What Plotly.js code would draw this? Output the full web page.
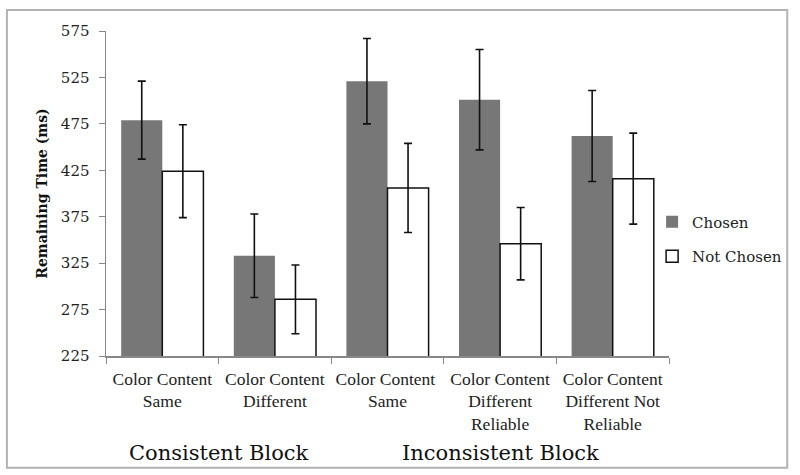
<!DOCTYPE html>
<html>
<head>
<meta charset="utf-8">
<script src="https://cdn.plot.ly/plotly-3.0.1.min.js"></script>
<style>
  html, body { margin: 0; padding: 0; background: #fff; }
  #chart { width: 800px; height: 475px; }
</style>
</head>
<body>
<div id="chart"></div>
<script>
const categories = [
  "Color Content<br>Same",
  "Color Content<br>Different",
  "Color Content <br>Same",
  "Color Content<br>Different<br>Reliable",
  "Color Content<br>Different Not<br>Reliable"
];
const chosen = [479, 333, 521, 501, 462];
const chosenErr = [42, 45, 46, 54, 49];
const notChosen = [424, 286, 406, 346, 416];
const notChosenErr = [50, 37, 48, 39, 49];
const blockLabels = ["Consistent Block", "Inconsistent Block"];

const serif = "DejaVu Serif, serif";
const narrowSerif = "Liberation Serif, serif";

let barTrace = (yv, ev, thisname, fill, grp) => ({
  type: "bar",
  name: thisname,
  legendgroup: grp,
  x: categories,
  y: yv,
  marker: {
    color: fill,
    line: { color: fill == "#ffffff" ? "#111" : fill, width: fill == "#ffffff" ? 1.5 : 0 },
  },
  error_y: {
    type: "data",
    array: ev,
    visible: true,
    color: "#111",
    thickness: 1.6,
    width: 4,
  },
});

const traces = [
  barTrace(chosen, chosenErr, "Chosen", "#777777", "a"),
  barTrace(notChosen, notChosenErr, "Not Chosen", "#ffffff", "b"),
];

// axis ticks shared by both axes
const tickStyle = {
  showline: true,
  linecolor: "#888",
  linewidth: 1.5,
  ticks: "outside",
  ticklen: 6,
  tickcolor: "#888",
  showgrid: false,
};

const layout = {
  width: 800,
  height: 475,
  paper_bgcolor: "#fff",
  plot_bgcolor: "#fff",
  font: { family: serif, size: 15, color: "#222" },
  barmode: "group",
  bargap: 0.27,
  bargroupgap: 0,
  margin: { l: 106, r: 131, t: 31, b: 119 },
  xaxis: Object.assign({}, tickStyle, {
    type: "category",
    tickson: "boundaries",
    tickangle: 0,
    ticklabelstandoff: 6,
    tickfont: { family: narrowSerif, size: 17.5, color: "#222" },
  }),
  yaxis: Object.assign({}, tickStyle, {
    range: [225, 575],
    tickvals: [225, 275, 325, 375, 425, 475, 525, 575],
    ticklabelstandoff: 6,
    zeroline: false,
    tickfont: { family: serif, size: 15, color: "#222" },
    title: {
      text: "<b>Remaining Time (ms)</b>",
      font: { family: serif, size: 14, color: "#111" },
      standoff: 10,
    },
  }),
  legend: {
    x: 0.97,
    xanchor: "left",
    y: 0.36,
    yanchor: "middle",
    bgcolor: "rgba(0,0,0,0)",
    font: { family: serif, size: 15, color: "#222" },
    tracegroupgap: 12,
  },
  annotations: [
    {
      text: blockLabels[0],
      xref: "paper", yref: "paper",
      x: 0.2, xanchor: "center",
      y: -0.255, yanchor: "top",
      showarrow: false,
      font: { family: serif, size: 21, color: "#111" },
    },
    {
      text: blockLabels[1],
      xref: "paper", yref: "paper",
      x: 0.7, xanchor: "center",
      y: -0.255, yanchor: "top",
      showarrow: false,
      font: { family: serif, size: 21, color: "#111" },
    },
  ],
  shapes: [
    {
      type: "rect",
      xref: "paper", yref: "paper",
      x0: -0.176, x1: 1.21, y0: -0.344, y1: 1.065,
      line: { color: "#b3b3b3", width: 2 },
      fillcolor: "rgba(0,0,0,0)",
    },
  ],
};

Plotly.newPlot("chart", traces, layout, { displayModeBar: false, staticPlot: true });
</script>
</body>
</html>
